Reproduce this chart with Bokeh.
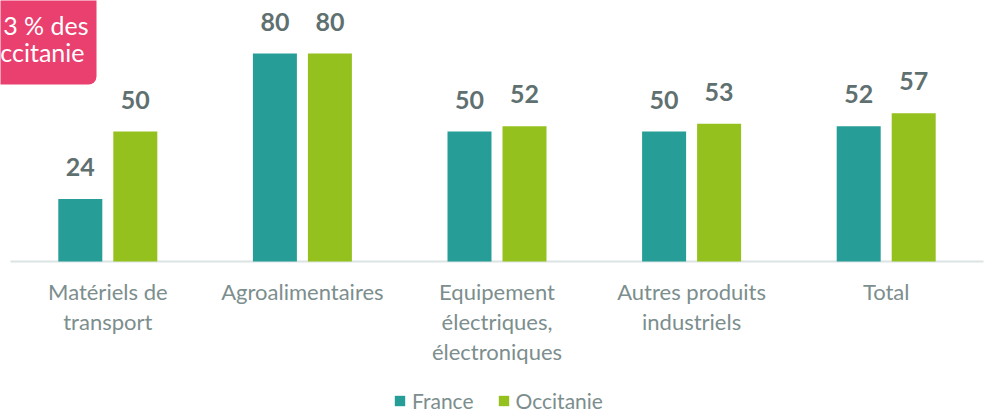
from bokeh.plotting import figure
from bokeh.models import Range1d, BoxAnnotation, Legend, LegendItem, ColumnDataSource
from bokeh.transform import dodge
from bokeh.core.properties import value
from bokeh.embed import file_html
from bokeh.resources import INLINE

# ---- data ----
categories = ["Matériels de\ntransport", "Agroalimentaires",
              "Equipement\nélectriques,\nélectroniques",
              "Autres produits\nindustriels", "Total"]
france = [24, 80, 50, 50, 52]
occitanie = [50, 80, 52, 53, 57]
series_names = ["France", "Occitanie"]
callout_lines = ["3 % des", "ccitanie"]

# ---- layout constants (pixels) ----
W, H = 986, 418
PX_PER_CAT = 194.6
FIRST_CENTER = 107.3
BASE_Y = 261
PX_PER_UNIT = 2.6

def dx(px):
    return (px - FIRST_CENTER) / PX_PER_CAT

def dy(py):
    return (BASE_Y - py) / PX_PER_UNIT

TEAL = "#279D97"
GREEN = "#95C11F"
PINK = "#E9406F"
VAL_COLOR = "#5F7070"
CAT_COLOR = "#7C8E8D"
FONT = "Lato"

p = figure(width=W, height=H,
           x_range=Range1d(dx(0), dx(W)), y_range=Range1d(dy(H), dy(0)),
           x_axis_type=None, y_axis_type=None,
           output_backend="svg", toolbar_location=None, min_border=0)
p.grid.visible = False
p.outline_line_color = None
p.background_fill_color = "white"
p.border_fill_color = "white"

idx = list(range(len(categories)))
label_off = 32 / PX_PER_UNIT
src = ColumnDataSource(dict(
    x=idx, france=france, occitanie=occitanie,
    fr_ly=[v + label_off for v in france],
    oc_ly=[v + label_off for v in occitanie],
    fr_txt=[str(v) for v in france],
    oc_txt=[str(v) for v in occitanie],
))

off = 27.5 / PX_PER_CAT
bw = 44 / PX_PER_CAT

# pink callout box (clipped at the top-left corner), drawn under the texts
box = BoxAnnotation(left=dx(-40), right=dx(96), bottom=dy(84), top=dy(-40),
                    fill_color=PINK, fill_alpha=1, line_color=None,
                    border_radius=8, level="underlay")
p.add_layout(box)

# baseline
p.segment(x0=[-0.5], x1=[len(categories) - 0.5], y0=[0], y1=[0],
          line_color="#DCE3E3", line_width=2)

r_fr = p.vbar(x=dodge("x", -off, range=p.x_range), top="france", bottom=0,
              width=bw, source=src, fill_color=TEAL, line_color=None)
r_oc = p.vbar(x=dodge("x", off, range=p.x_range), top="occitanie", bottom=0,
              width=bw, source=src, fill_color=GREEN, line_color=None)

for ycol, tcol, o in (("fr_ly", "fr_txt", -off), ("oc_ly", "oc_txt", off)):
    p.text(x=dodge("x", o, range=p.x_range), y=ycol, text=tcol, source=src,
           text_align="center", text_baseline="alphabetic",
           text_font=value(FONT), text_font_style="bold",
           text_font_size="25px", text_color=VAL_COLOR)

# category labels
cx, cy, ct = [], [], []
for i, c in enumerate(categories):
    for j, line in enumerate(c.split("\n")):
        cx.append(i)
        cy.append(dy(291 + 30 * j))
        ct.append(line)
p.text(x=cx, y=cy, text=ct, text_align="center", text_baseline="middle",
       text_font=value(FONT), text_font_size="22px", text_color=CAT_COLOR)

p.text(x=[dx(88), dx(84)], y=[dy(24), dy(51)], text=callout_lines,
       text_align="right", text_baseline="middle",
       text_font=value(FONT), text_font_size="25px", text_color="white")

legend = Legend(items=[LegendItem(label=series_names[0], renderers=[r_fr]),
                       LegendItem(label=series_names[1], renderers=[r_oc])],
                orientation="horizontal", location=(393, 5),
                glyph_width=13, glyph_height=13, label_standoff=6, spacing=23,
                padding=0, margin=0, border_line_color=None,
                background_fill_alpha=0, label_height=20,
                label_text_font=FONT, label_text_font_size="21px",
                label_text_color=CAT_COLOR)
p.add_layout(legend)

html = file_html(p, INLINE)
html = html.replace("<head>", "<head><style>html,body{margin:0;padding:0;overflow:hidden}</style>", 1)
open("out.html", "w").write(html)
